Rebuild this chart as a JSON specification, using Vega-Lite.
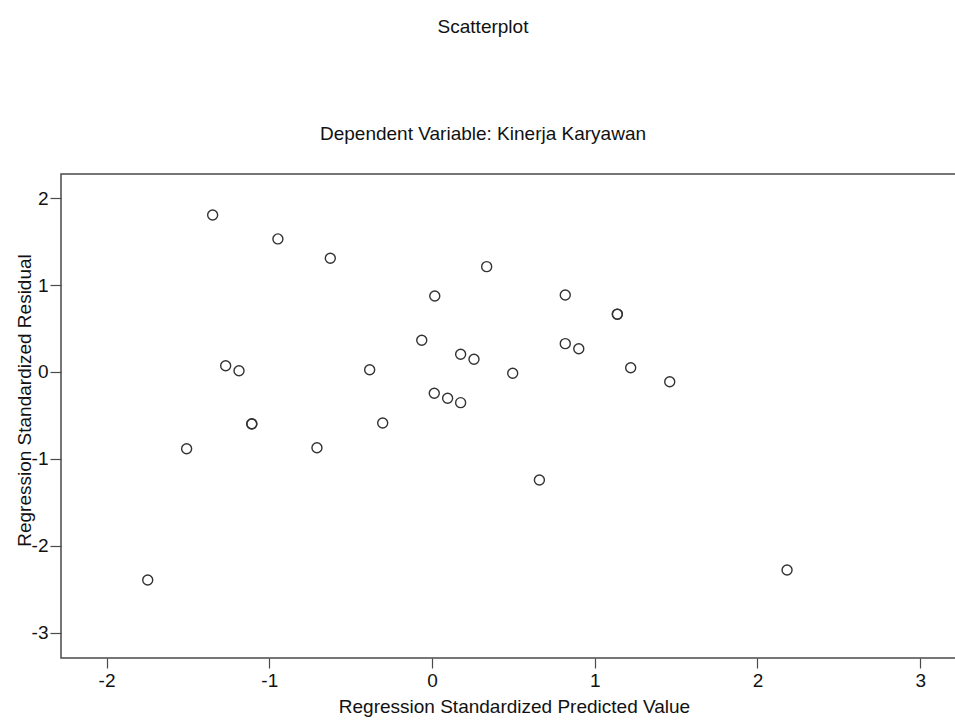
{
  "$schema": "https://vega.github.io/schema/vega-lite/v6.json",
  "autosize": "none",
  "padding": {"left": 61, "top": 174, "right": 0, "bottom": 64},
  "width": 900,
  "height": 484,
  "background": "white",
  "config": {
    "font": "Liberation Sans",
    "view": {"stroke": "#4a4a4a", "strokeWidth": 1.5},
    "axis": {
      "grid": false,
      "domain": false,
      "tickColor": "#4a4a4a",
      "tickWidth": 1.2,
      "labelFont": "Liberation Sans",
      "labelFontSize": 19,
      "labelColor": "#111",
      "titleFont": "Liberation Sans",
      "titleFontSize": 19,
      "titleFontWeight": "normal",
      "titleColor": "#111"
    }
  },
  "title": {
    "text": "Scatterplot",
    "subtitle": "Dependent Variable: Kinerja Karyawan",
    "anchor": "middle",
    "dx": -28,
    "offset": 30,
    "subtitlePadding": 88,
    "font": "Liberation Sans",
    "fontSize": 19,
    "fontWeight": "normal",
    "color": "#111",
    "subtitleFont": "Liberation Sans",
    "subtitleFontSize": 19,
    "subtitleColor": "#111"
  },
  "data": {
    "values": [
      {"predicted": -1.348, "residual": 1.807},
      {"predicted": -0.947, "residual": 1.531},
      {"predicted": -0.625, "residual": 1.308},
      {"predicted": 0.336, "residual": 1.212},
      {"predicted": 0.017, "residual": 0.875},
      {"predicted": 0.819, "residual": 0.886},
      {"predicted": 1.139, "residual": 0.664},
      {"predicted": 1.139, "residual": 0.666},
      {"predicted": -0.063, "residual": 0.365},
      {"predicted": 0.819, "residual": 0.326},
      {"predicted": 0.902, "residual": 0.268},
      {"predicted": 0.176, "residual": 0.204},
      {"predicted": 0.258, "residual": 0.146},
      {"predicted": -1.268, "residual": 0.072},
      {"predicted": -1.186, "residual": 0.015},
      {"predicted": -0.383, "residual": 0.026},
      {"predicted": 1.221, "residual": 0.049},
      {"predicted": 0.496, "residual": -0.015},
      {"predicted": 1.461, "residual": -0.112},
      {"predicted": 0.014, "residual": -0.245},
      {"predicted": 0.096, "residual": -0.303},
      {"predicted": 0.176, "residual": -0.353},
      {"predicted": -1.108, "residual": -0.598},
      {"predicted": -1.107, "residual": -0.596},
      {"predicted": -0.303, "residual": -0.587},
      {"predicted": -1.508, "residual": -0.883},
      {"predicted": -0.707, "residual": -0.871},
      {"predicted": 0.660, "residual": -1.243},
      {"predicted": -1.747, "residual": -2.394},
      {"predicted": 2.182, "residual": -2.279}
    ]
  },
  "mark": {"type": "point", "shape": "circle", "filled": false, "stroke": "#333", "strokeWidth": 1.4, "size": 100, "opacity": 1},
  "encoding": {
    "x": {
      "field": "predicted",
      "type": "quantitative",
      "scale": {"domain": [-2.28, 3.251], "nice": false, "zero": false},
      "axis": {
        "title": "Regression Standardized Predicted Value",
        "values": [-2, -1, 0, 1, 2, 3],
        "labelExpr": "'' + datum.value",
        "tickSize": 10,
        "labelPadding": 3,
        "titleX": 453,
        "titleY": 48,
        "titleBaseline": "middle",
        "titleAnchor": "middle"
      }
    },
    "y": {
      "field": "residual",
      "type": "quantitative",
      "scale": {"domain": [-3.291, 2.278], "nice": false, "zero": false},
      "axis": {
        "title": "Regression Standardized Residual",
        "values": [-3, -2, -1, 0, 1, 2],
        "labelExpr": "'' + datum.value",
        "tickSize": 11,
        "labelPadding": 2,
        "titleAngle": -90,
        "titleX": -37,
        "titleY": 226,
        "titleBaseline": "middle",
        "titleAnchor": "middle"
      }
    }
  }
}
